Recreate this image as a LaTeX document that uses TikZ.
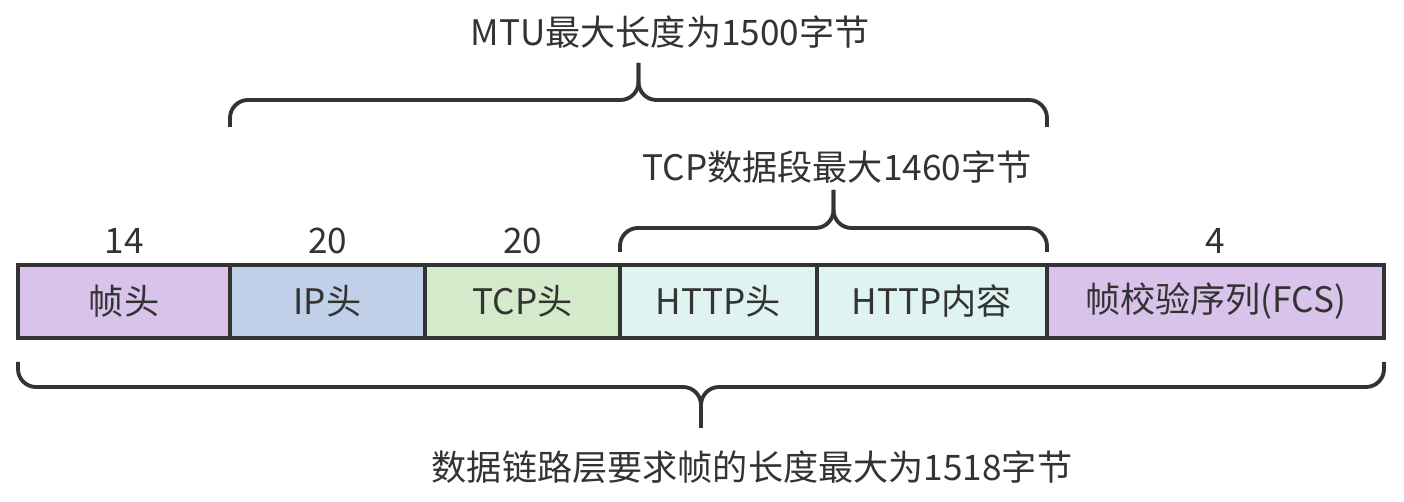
\documentclass[tikz,border=0pt]{standalone}
\usepackage{fontspec}
\setmainfont{Noto Sans CJK SC}
\usetikzlibrary{positioning}
\definecolor{framec}{HTML}{D9C3EA}
\definecolor{ipc}{HTML}{BFD0E8}
\definecolor{tcpc}{HTML}{D3EBCB}
\definecolor{httpc}{HTML}{DFF3F1}
\definecolor{edgec}{HTML}{333333}
\definecolor{txtc}{HTML}{333333}
\begin{document}
\begin{tikzpicture}[x=0.2mm,y=-0.2mm,font=\fontsize{20pt}{24pt}\selectfont,text=txtc,
    cell/.style={draw=edgec,line width=2.2pt,minimum height=14.6mm,inner sep=0pt,outer sep=0pt},
    num/.style={inner sep=0pt},
    brace/.style={draw=edgec,line width=2.2pt,rounded corners=3.6mm}]
    \useasboundingbox (0,0) rectangle (1404,502);
    \node[cell,fill=framec,minimum width=42.4mm,anchor=north west] (fh) at (18,265) {帧头};
    \node[cell,fill=ipc,minimum width=39mm,right=0pt of fh] (ip) {IP头};
    \node[cell,fill=tcpc,minimum width=39mm,right=0pt of ip] (tcp) {TCP头};
    \node[cell,fill=httpc,minimum width=39.4mm,right=0pt of tcp] (hh) {HTTP头};
    \node[cell,fill=httpc,minimum width=46mm,right=0pt of hh] (hb) {HTTP内容};
    \node[cell,fill=framec,minimum width=67.4mm,right=0pt of hb] (fcs) {帧校验序列(FCS)};
    \node[num,above=2.2mm of fh] (n14) {14};
    \node[num,above=2.2mm of ip] (n20a) {20};
    \node[num,above=2.2mm of tcp] (n20b) {20};
    \node[num,above=2.2mm of fcs] (n4) {4};
    \coordinate (mtuA) at (230,127);
    \coordinate (mtuB) at (1047,127);
    \coordinate (mtuT) at (638.5,63);
    \draw[brace] (mtuA) |- (638.5,100) -- (mtuT);
    \draw[brace] (mtuB) |- (638.5,100) -- (mtuT);
    \node (mtutxt) at (670,32) {MTU最大长度为1500字节};
    \coordinate (tcpA) at (620,252);
    \coordinate (tcpB) at (1047,252);
    \coordinate (tcpT) at (833.5,190);
    \draw[brace] (tcpA) |- (833.5,228) -- (tcpT);
    \draw[brace] (tcpB) |- (833.5,228) -- (tcpT);
    \node (tcptxt) at (837,167) {TCP数据段最大1460字节};
    \coordinate (dlA) at (18,362);
    \coordinate (dlB) at (1384,362);
    \coordinate (dlT) at (701,428);
    \draw[brace] (dlA) |- (701,387) -- (dlT);
    \draw[brace] (dlB) |- (701,387) -- (dlT);
    \node (dltxt) at (752,467) {数据链路层要求帧的长度最大为1518字节};
\end{tikzpicture}
\end{document}
